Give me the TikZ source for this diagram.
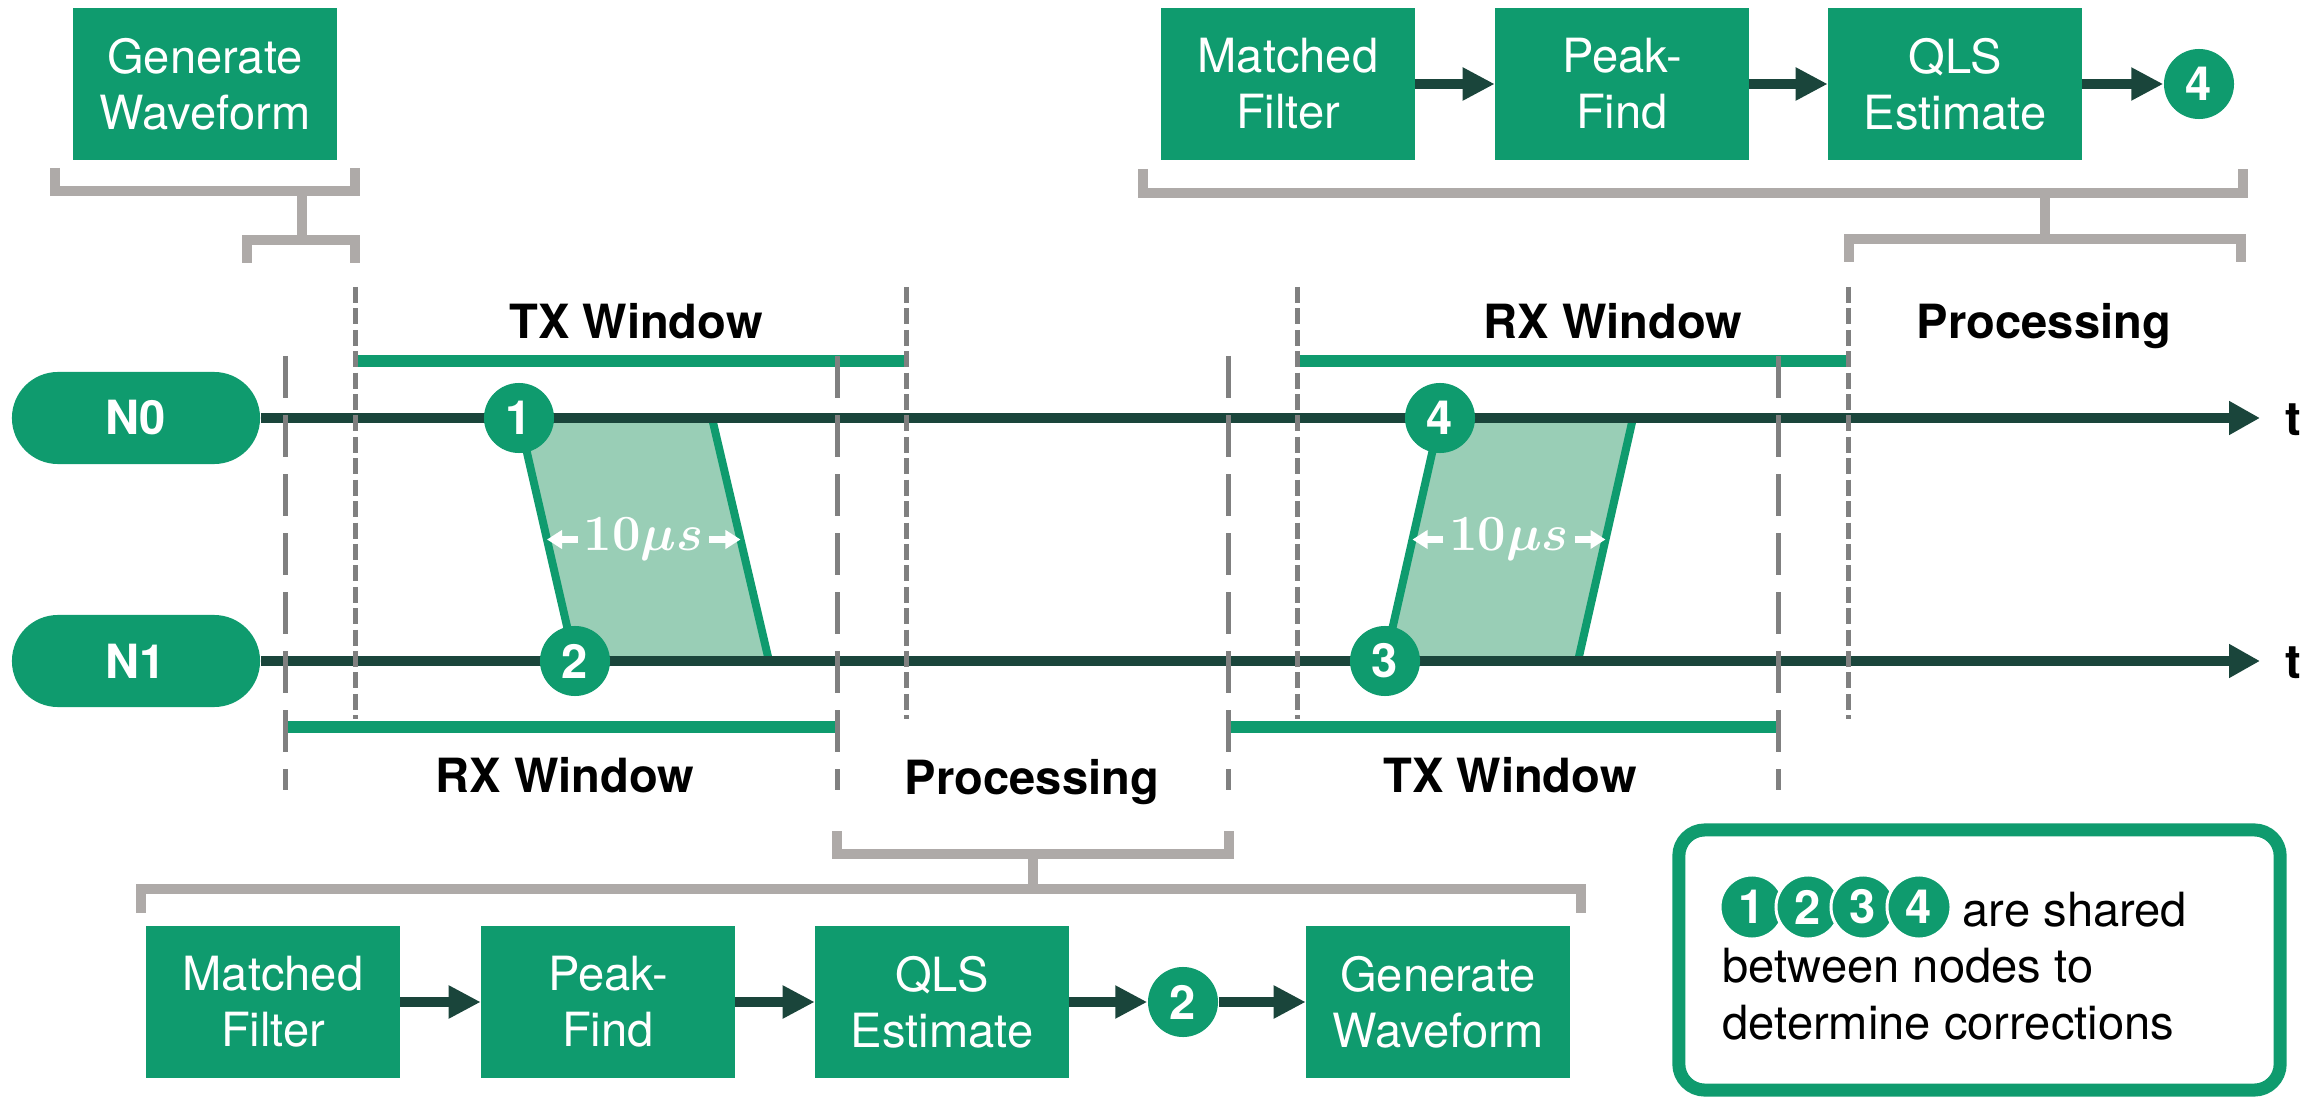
\documentclass[tikz,border=0pt]{standalone}
\usepackage{fontspec}
\setmainfont{TeX Gyre Heros}
\usetikzlibrary{arrows.meta,calc,shapes.misc}
\definecolor{grn}{HTML}{0F9B6E}
\definecolor{dgrn}{HTML}{1A453B}
\definecolor{lgrn}{HTML}{99CEB6}
\definecolor{brk}{HTML}{AEAAA8}
\definecolor{dsh}{HTML}{808080}
\newcommand{\fs}{\fontsize{13.4pt}{15.9pt}\selectfont}
\tikzset{
  box/.style={fill=grn, text=white, minimum width=2.53cm, minimum height=1.52cm, inner sep=0pt, align=center, font=\fs},
  gwbox/.style={box, minimum width=2.63cm},
  num/.style={circle, fill=grn, text=white, minimum size=0.70cm, inner sep=0pt, font=\bfseries\fs},
  lnum/.style={circle, fill=grn, draw=white, line width=0.03cm, text=white, minimum size=0.64cm, inner sep=0pt, font=\bfseries\fs},
  pill/.style={rounded rectangle, fill=grn, text=white, minimum width=2.48cm, minimum height=0.92cm, inner sep=0pt, font=\bfseries\fs},
  lbl/.style={font=\bfseries\fs, inner sep=0pt},
  flow/.style={dgrn, line width=0.1cm, -{Triangle[length=0.32cm,width=0.31cm]}},
  brack/.style={brk, line width=0.1cm, line join=miter},
  tline/.style={dgrn, line width=0.1cm, -{Triangle[length=0.31cm,width=0.32cm]}},
  sdash/.style={dsh, line width=0.05cm, dash pattern=on 0.16cm off 0.054cm},
  ldash/.style={dsh, line width=0.05cm, dash pattern=on 0.42cm off 0.17cm},
  win/.style={grn, line width=0.11cm},
  pedge/.style={grn, line width=0.08cm},
  wa/.style={white, line width=0.07cm, -{Triangle[length=0.15cm,width=0.18cm]}},
  mulbl/.style={text=white, font=\fontsize{14pt}{16pt}\selectfont\boldmath, inner sep=0.05cm},
}
\begin{document}
\begin{tikzpicture}[x=0.01cm,y=-0.01cm]
\useasboundingbox (0,0) rectangle (2323,1097);

% ---- positions of events
\coordinate (e1) at (519,418);
\coordinate (e2) at (575,661);
\coordinate (e3) at (1385,661);
\coordinate (e4) at (1440,418);
\coordinate (p1a) at (712,418);
\coordinate (p1b) at (769,661);
\coordinate (p2a) at (1633,418);
\coordinate (p2b) at (1578,661);

% ---- parallelograms
\fill[lgrn] (e1) -- (p1a) -- (p1b) -- (e2) -- cycle;
\fill[lgrn] (e4) -- (p2a) -- (p2b) -- (e3) -- cycle;
\draw[pedge] (e1) -- (e2);
\draw[pedge] (p1a) -- (p1b);
\draw[pedge] (e4) -- (e3);
\draw[pedge] (p2a) -- (p2b);

% ---- node pills and time lines
\node[pill] (n0) at (136,418) {N0};
\node[pill] (n1) at (136,661) {N1};
\coordinate (t0) at (2260,418);
\coordinate (t1) at (2260,661);
\draw[tline] (n0.east) -- (t0);
\draw[tline] (n1.east) -- (t1);
\node[lbl, anchor=west] (tl0) at (2285,420) {t};
\node[lbl, anchor=west] (tl1) at (2285,663) {t};

% ---- window lines
\draw[win] (357,361) -- (905,361);
\draw[win] (1298,361) -- (1851,361);
\draw[win] (285,727) -- (837,727);
\draw[win] (1229,727) -- (1778,727);

% ---- dashed markers
\foreach \x in {355,906,1297,1848} \draw[sdash] (\x,287) -- (\x,719);
\foreach \x in {285,837,1228,1778} \draw[ldash] (\x,356) -- (\x,790);

% ---- event circles
\node[num] (c1) at (e1) {1};
\node[num] (c2) at (e2) {2};
\node[num] (c3) at (e3) {3};
\node[num] (c4) at (e4) {4};

% ---- 10 us labels
\coordinate (l1) at ($(e1)!.5!(e2)$);
\coordinate (r1) at ($(p1a)!.5!(p1b)$);
\node[mulbl] (mu1) at ($(l1)!.5!(r1)$) {$10\mu s$};
\draw[wa] (mu1.west) -- (l1);
\draw[wa] (mu1.east) -- (r1);
\coordinate (l2) at ($(e4)!.5!(e3)$);
\coordinate (r2) at ($(p2a)!.5!(p2b)$);
\node[mulbl] (mu2) at ($(l2)!.5!(r2)$) {$10\mu s$};
\draw[wa] (mu2.west) -- (l2);
\draw[wa] (mu2.east) -- (r2);

% ---- phase labels
\node[lbl, anchor=base] (txw0) at (636,338) {TX Window};
\node[lbl, anchor=base] (rxw0) at (1613,338) {RX Window};
\node[lbl, anchor=base] (pr0) at (2044,338) {Processing};
\node[lbl, anchor=base] (rxw1) at (565,792) {RX Window};
\node[lbl, anchor=base] (pr1) at (1032,794) {Processing};
\node[lbl, anchor=base] (txw1) at (1510,792) {TX Window};

% ---- top-left block
\node[gwbox] (gw0) at (205,84) {Generate\\Waveform};
\draw[brack] (55,168) -- (55,191) -- (355,191) -- (355,168);
\draw[brack] (302,191) -- (302,240);
\draw[brack] (247,263) -- (247,240) -- (355,240) -- (355,263);

% ---- top-right chain
\node[box] (mf0) at (1288,84) {Matched\\Filter};
\node[box] (pf0) at (1622,84) {Peak-\\Find};
\node[box] (qls0) at (1955,84) {QLS\\Estimate};
\node[num] (c4t) at (2199,84) {4};
\draw[flow] (mf0.east) -- (pf0.west);
\draw[flow] (pf0.east) -- (qls0.west);
\draw[flow] (qls0.east) -- (c4t.west);
\draw[brack] (1143,169) -- (1143,193) -- (2243,193) -- (2243,169);
\draw[brack] (2045,193) -- (2045,239);
\draw[brack] (1849,262) -- (1849,239) -- (2241,239) -- (2241,262);

% ---- bottom chain
\draw[brack] (837,831) -- (837,854) -- (1229,854) -- (1229,831);
\draw[brack] (1033,854) -- (1033,889);
\draw[brack] (141,913) -- (141,889) -- (1581,889) -- (1581,913);
\node[box] (mf1) at (273,1002) {Matched\\Filter};
\node[box] (pf1) at (608,1002) {Peak-\\Find};
\node[box] (qls1) at (942,1002) {QLS\\Estimate};
\node[num] (c2b) at (1183,1002) {2};
\node[gwbox] (gw1) at (1438,1002) {Generate\\Waveform};
\draw[flow] (mf1.east) -- (pf1.west);
\draw[flow] (pf1.east) -- (qls1.west);
\draw[flow] (qls1.east) -- (c2b.west);
\draw[flow] (c2b.east) -- (gw1.west);

% ---- legend
\node[draw=grn, line width=0.13cm, rounded corners=0.26cm, minimum width=6.01cm, minimum height=2.60cm] (legend) at (1979.5,960) {};
\node[lnum] (k1) at (1752,907) {1};
\node[lnum] (k2) at (1808,907) {2};
\node[lnum] (k3) at (1863,907) {3};
\node[lnum] (k4) at (1919,907) {4};
\node[font=\fs, anchor=base west, inner sep=0pt] (lt1) at (1962,926) {are shared};
\node[font=\fs, anchor=base west, inner sep=0pt] (lt2) at (1722,982) {between nodes to};
\node[font=\fs, anchor=base west, inner sep=0pt] (lt3) at (1722,1039) {determine corrections};
\end{tikzpicture}
\end{document}
